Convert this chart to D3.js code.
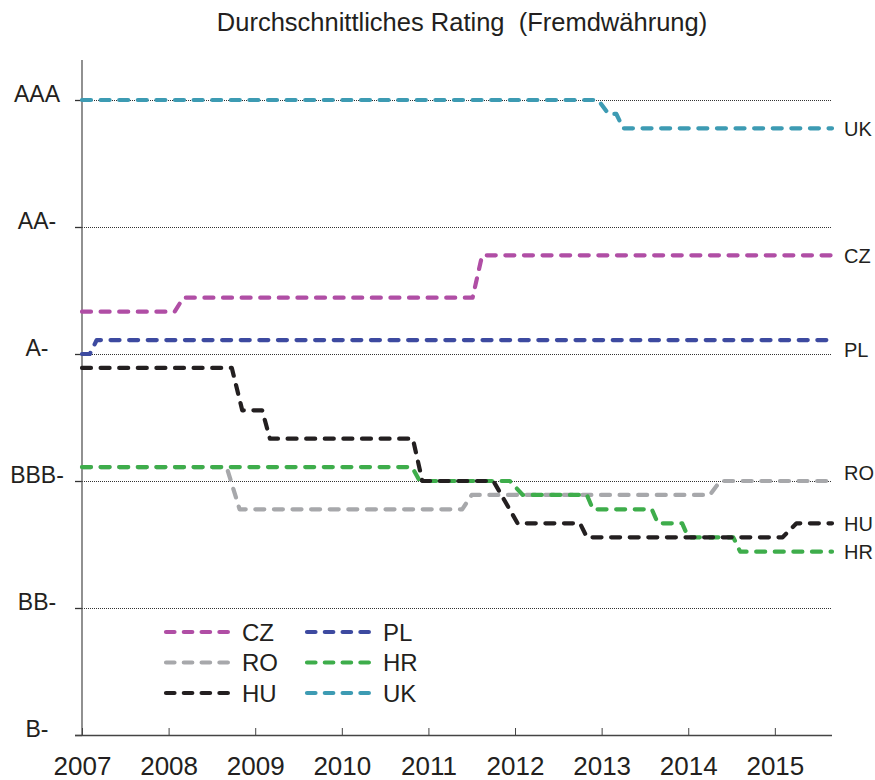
<!DOCTYPE html>
<html>
<head>
<meta charset="utf-8">
<script src="https://cdn.jsdelivr.net/npm/d3@7"></script>
<style>
  body { margin: 0; background: #fff; }
  text { font-family: Arial, "Liberation Sans", sans-serif; fill: #231f20; }
</style>
</head>
<body>
<div id="chart"></div>
<script>
// rating notches counted from AAA = 0 down to B- = 15
var ratingTicks = [0, 3, 6, 9, 12, 15];
var ratingLabels = ['AAA', 'AA-', 'A-', 'BBB-', 'BB-', 'B-'];
var yearTicks = [2007, 2008, 2009, 2010, 2011, 2012, 2013, 2014, 2015];

// average rating per country, [year, notch]
var cz = [[2007, 5], [2008.07, 5], [2008.17, 4.67], [2011.51, 4.67], [2011.62, 3.67], [2015.66, 3.67]];
var pl = [[2007, 6], [2007.09, 6], [2007.17, 5.67], [2015.66, 5.67]];
var ro = [[2007, 8.67], [2008.67, 8.67], [2008.82, 9.67], [2011.39, 9.67], [2011.5, 9.33],
          [2014.25, 9.33], [2014.37, 9], [2015.66, 9]];
var hr = [[2007, 8.67], [2010.81, 8.67], [2010.9, 9], [2011.94, 9], [2012.09, 9.33], [2012.83, 9.33],
          [2012.9, 9.67], [2013.58, 9.67], [2013.65, 10], [2013.93, 10], [2014.0, 10.33],
          [2014.52, 10.33], [2014.6, 10.67], [2015.66, 10.67]];
var hu = [[2007, 6.33], [2008.73, 6.33], [2008.85, 7.33], [2009.08, 7.33], [2009.17, 8], [2010.82, 8],
          [2010.93, 9], [2011.75, 9], [2012.03, 10], [2012.75, 10], [2012.83, 10.33],
          [2015.09, 10.33], [2015.25, 10], [2015.66, 10]];
var uk = [[2007, 0], [2012.96, 0], [2013.08, 0.33], [2013.17, 0.33], [2013.25, 0.67], [2015.66, 0.67]];

var series = [
	{ name: 'CZ', data: cz, color: '#b04ea5' },
	{ name: 'PL', data: pl, color: '#3d4aa0' },
	{ name: 'RO', data: ro, color: '#a7a8ab' },
	{ name: 'HR', data: hr, color: '#3ead4b' },
	{ name: 'HU', data: hu, color: '#231f20' },
	{ name: 'UK', data: uk, color: '#3d9bb3' }
];

var width = 875, height = 780;
var plotLeft = 82, plotRight = 832, plotTop = 100, plotBottom = 735;

var svg = d3.select('#chart')
	.append('svg')
		.attr('width', width)
		.attr('height', height);

var x = d3.scaleLinear().domain([2007, 2015.66]).range([plotLeft, plotRight]);
var y = d3.scaleLinear().domain([0, 15]).range([plotTop, plotBottom]);

// title
svg.append('text')
	.attr('x', 462)
	.attr('y', 31)
	.attr('text-anchor', 'middle')
	.style('font-size', '25.5px')
	.text('Durchschnittliches Rating\u00a0\u00a0(Fremdwährung)');

// dotted grid lines
svg.selectAll('.grid')
	.data(ratingTicks.slice(0, -1))
	.enter().append('line')
		.attr('x1', plotLeft)
		.attr('x2', plotRight)
		.attr('y1', function(d){ return y(d) + 0.5; })
		.attr('y2', function(d){ return y(d) + 0.5; })
		.attr('stroke', '#333')
		.attr('stroke-width', 1)
		.attr('stroke-dasharray', '1,1');

// y axis
var yAxis = d3.axisLeft(y)
	.tickValues(ratingTicks)
	.tickSize(7)
	.tickFormat(function(d, i){ return ratingLabels[i]; });

var gy = svg.append('g')
	.attr('transform', 'translate(' + plotLeft + ',0)')
	.call(yAxis);
gy.select('.domain').remove();
gy.selectAll('.tick line').attr('stroke', '#333').attr('stroke-width', 1.3);
gy.selectAll('.tick text')
	.attr('x', -45)
	.attr('dy', '0.05em')
	.attr('text-anchor', 'middle')
	.style('font-size', '23px')
	.style('font-family', 'Arial, "Liberation Sans", sans-serif')
	.attr('fill', '#231f20');

svg.append('line')
	.attr('x1', plotLeft).attr('x2', plotLeft)
	.attr('y1', 60).attr('y2', plotBottom)
	.attr('stroke', '#555')
	.attr('stroke-width', 1.3);

// x axis
var xAxis = d3.axisBottom(x)
	.tickValues(yearTicks)
	.tickSize(-7)
	.tickFormat(d3.format('d'));

var gx = svg.append('g')
	.attr('transform', 'translate(0,' + plotBottom + ')')
	.call(xAxis);
gx.select('.domain').remove();
gx.selectAll('.tick line').attr('stroke', '#444');
gx.selectAll('.tick text')
	.attr('y', 40)
	.attr('dy', 0)
	.style('font-size', '26px')
	.style('font-family', 'Arial, "Liberation Sans", sans-serif')
	.attr('fill', '#231f20');

svg.append('line')
	.attr('x1', plotLeft - 7).attr('x2', plotRight)
	.attr('y1', plotBottom + 0.5).attr('y2', plotBottom + 0.5)
	.attr('stroke', '#444')
	.attr('stroke-width', 1.3);

// rating lines
var line = d3.line()
	.x(function(d){ return x(d[0]); })
	.y(function(d){ return y(d[1]); });

svg.selectAll('.series')
	.data(series)
	.enter().append('path')
		.attr('d', function(d){ return line(d.data); })
		.attr('fill', 'none')
		.attr('stroke', function(d){ return d.color; })
		.attr('stroke-width', 4.2)
		.attr('stroke-linecap', 'round')
		.attr('stroke-linejoin', 'round')
		.attr('stroke-dasharray', '9,9.6');

// labels at line ends (small nudges where they would touch a grid line)
var nudge = { PL: 10, RO: -8 };
svg.selectAll('.endlabel')
	.data(series)
	.enter().append('text')
		.attr('x', 844)
		.attr('y', function(d){ return y(d.data[d.data.length - 1][1]) + (nudge[d.name] || 0); })
		.attr('dy', '0.36em')
		.style('font-size', '20px')
		.text(function(d){ return d.name; });

// legend, two columns
var legend = svg.selectAll('.legend')
	.data(series)
	.enter().append('g')
		.attr('transform', function(d, i){
			return 'translate(' + (i % 2 === 0 ? 166 : 307) + ',' + (632 + Math.floor(i / 2) * 30.5) + ')';
		});

legend.append('line')
	.attr('x1', 0)
	.attr('x2', 66)
	.attr('stroke', function(d){ return d.color; })
	.attr('stroke-width', 4.2)
	.attr('stroke-linecap', 'round')
	.attr('stroke-dasharray', '8.5,9.3');

legend.append('text')
	.attr('x', 76)
	.attr('dy', '0.36em')
	.style('font-size', '24px')
	.text(function(d){ return d.name; });
</script>
</body>
</html>
